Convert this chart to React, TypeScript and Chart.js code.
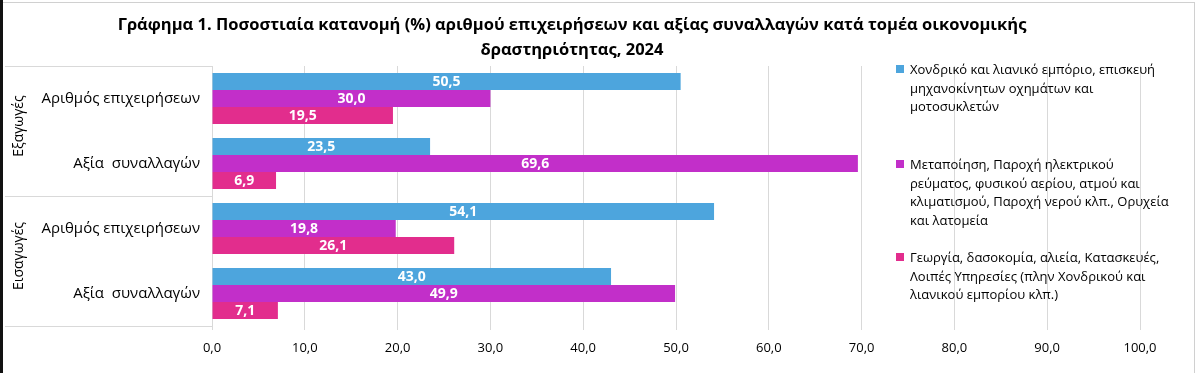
import React, { useEffect, useRef } from "react";
import { Chart, registerables } from "chart.js";

Chart.register(...registerables);

const titleLines = [
  "Γράφημα 1. Ποσοστιαία κατανομή (%) αριθμού επιχειρήσεων και αξίας συναλλαγών κατά τομέα οικονομικής",
  "δραστηριότητας, 2024",
];
const categories = [
  "Αριθμός επιχειρήσεων",
  "Αξία  συναλλαγών",
  "Αριθμός επιχειρήσεων",
  "Αξία  συναλλαγών",
];
const groups = ["Εξαγωγές", "Εισαγωγές"];
const seriesNames = [
  "Χονδρικό και λιανικό εμπόριο, επισκευή μηχανοκίνητων οχημάτων και μοτοσυκλετών",
  "Μεταποίηση, Παροχή ηλεκτρικού ρεύματος, φυσικού αερίου, ατμού και κλιματισμού, Παροχή νερού κλπ., Ορυχεία και λατομεία",
  "Γεωργία, δασοκομία, αλιεία, Κατασκευές, Λοιπές Υπηρεσίες (πλην Χονδρικού και λιανικού εμπορίου κλπ.)",
];
const legendLines = [
  ["Χονδρικό και λιανικό εμπόριο, επισκευή", "μηχανοκίνητων οχημάτων και", "μοτοσυκλετών"],
  ["Μεταποίηση, Παροχή ηλεκτρικού", "ρεύματος, φυσικού αερίου, ατμού και", "κλιματισμού, Παροχή νερού κλπ., Ορυχεία", "και λατομεία"],
  ["Γεωργία, δασοκομία, αλιεία, Κατασκευές,", "Λοιπές Υπηρεσίες (πλην Χονδρικού και", "λιανικού εμπορίου κλπ.)"],
];
const tradeValues = [50.5, 23.5, 54.1, 43.0];
const manufacturingValues = [30.0, 69.6, 19.8, 49.9];
const otherValues = [19.5, 6.9, 26.1, 7.1];
const xMin = 0;
const xMax = 100;
const xStep = 10;

const colors = ["#4DA5DD", "#C22FC9", "#E22D8D"];
const FONT = "'Open Sans', 'DejaVu Sans', sans-serif";
const fmt = (v: number) => v.toFixed(1).replace(".", ",");

const decorPlugin = {
  id: "decor",
  beforeDraw(chart: any) {
    const { ctx, width, height } = chart;
    ctx.save();
    ctx.fillStyle = "#ffffff";
    ctx.fillRect(0, 0, width, height);
    ctx.restore();
  },
  afterDraw(chart: any) {
    const { ctx, chartArea, height } = chart;
    const { top, bottom, left } = chartArea;
    const mid = (top + bottom) / 2;
    ctx.save();
    ctx.strokeStyle = "#d9d9d9";
    ctx.lineWidth = 1;
    ctx.beginPath();
    [top, mid, bottom].forEach((y) => {
      const yy = Math.round(y) + 0.5;
      ctx.moveTo(5, yy);
      ctx.lineTo(left, yy);
    });
    ctx.stroke();
    ctx.fillStyle = "#000000";
    ctx.font = `14px ${FONT}`;
    ctx.textAlign = "center";
    ctx.textBaseline = "middle";
    const centers = [(top + mid) / 2 - 5, (mid + bottom) / 2 - 5];
    groups.forEach((g, i) => {
      ctx.save();
      ctx.translate(19, centers[i]);
      ctx.rotate(-Math.PI / 2);
      ctx.fillText(g, 0, 0);
      ctx.restore();
    });
    ctx.fillStyle = "#111111";
    ctx.fillRect(0, 0, 3, height);
    ctx.strokeStyle = "#d0d0d0";
    ctx.beginPath();
    ctx.moveTo(3, 2.5);
    ctx.lineTo(1195, 2.5);
    ctx.moveTo(1194.5, 2);
    ctx.lineTo(1194.5, height);
    ctx.stroke();
    ctx.restore();
  },
  afterDatasetsDraw(chart: any) {
    const { ctx } = chart;
    ctx.save();
    ctx.fillStyle = "#ffffff";
    ctx.font = `bold 14px ${FONT}`;
    ctx.textAlign = "center";
    ctx.textBaseline = "middle";
    chart.data.datasets.forEach((ds: any, di: number) => {
      const meta = chart.getDatasetMeta(di);
      meta.data.forEach((el: any, i: number) => {
        const p = el.getProps(["x", "y", "base"], true);
        ctx.fillText(fmt(ds.data[i]), (p.x + p.base) / 2, p.y + 1);
      });
    });
    ctx.restore();
  },
};

export default function App() {
  const ref = useRef<HTMLCanvasElement>(null);
  useEffect(() => {
    if (!ref.current) return;
    const chart = new Chart(ref.current, {
      type: "bar",
      data: {
        labels: categories,
        datasets: [
          { label: seriesNames[0], data: tradeValues, backgroundColor: colors[0] },
          { label: seriesNames[1], data: manufacturingValues, backgroundColor: colors[1] },
          { label: seriesNames[2], data: otherValues, backgroundColor: colors[2] },
        ],
      },
      options: {
        indexAxis: "y",
        responsive: false,
        animation: false,
        layout: { padding: { top: 66, right: 60, bottom: 0, left: 0 } },
        datasets: { bar: { categoryPercentage: 0.785, barPercentage: 1.0 } },
        plugins: {
          legend: { display: false },
          title: { display: false },
          tooltip: { enabled: false },
        },
        scales: {
          x: {
            min: xMin,
            max: xMax,
            ticks: {
              stepSize: xStep,
              callback: (v: any) => fmt(Number(v)),
              color: "#000000",
              font: { family: FONT, size: 13 },
              padding: 10,
            },
            grid: { color: "#d9d9d9", tickLength: 4, drawTicks: true },
            border: { display: false },
            afterFit: (s: any) => {
              s.height = 47;
            },
          },
          y: {
            ticks: {
              color: "#000000",
              font: { family: FONT, size: 15 },
              padding: 12,
            },
            grid: { display: false, drawTicks: false },
            border: { display: true, color: "#d9d9d9" },
            afterFit: (s: any) => {
              s.width = 212;
            },
          },
        },
      },
      plugins: [decorPlugin],
    } as any);
    return () => chart.destroy();
  }, []);

  return (
    <div style={{ position: "fixed", left: 0, top: 0, width: 1200, height: 373, background: "#fff", overflow: "hidden" }}>
      <canvas ref={ref} width={1200} height={373} style={{ position: "absolute", left: 0, top: 0 }} />
      <div
        style={{
          position: "absolute",
          left: 0,
          top: 11,
          width: 1144,
          textAlign: "center",
          fontFamily: FONT,
          fontWeight: 700,
          fontSize: 16.5,
          lineHeight: "25px",
          color: "#000",
        }}
      >
        {titleLines.map((t, i) => (
          <div key={i} style={{ whiteSpace: "nowrap" }}>{t}</div>
        ))}
      </div>
      {legendLines.map((lines, i) => {
        const tops = [60, 155, 248];
        return (
          <div key={i} style={{ position: "absolute", left: 896, top: tops[i], fontFamily: FONT, fontSize: 13, lineHeight: "18.5px", color: "#000" }}>
            <div style={{ position: "absolute", left: 0, top: 5, width: 8, height: 8, background: colors[i] }} />
            <div style={{ marginLeft: 14, whiteSpace: "nowrap" }}>
              {lines.map((l, j) => (
                <div key={j}>{l}</div>
              ))}
            </div>
          </div>
        );
      })}
    </div>
  );
}
